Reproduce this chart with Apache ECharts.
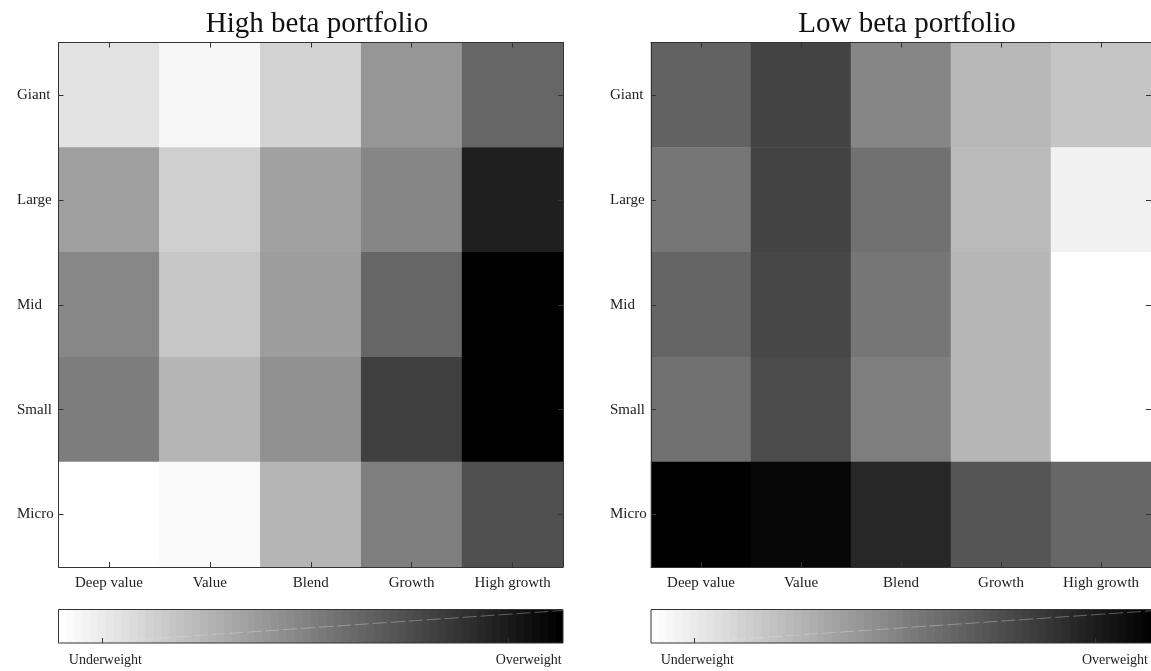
<!DOCTYPE html>
<html>
<head>
<meta charset="utf-8">
<script src="https://cdn.jsdelivr.net/npm/echarts@6/dist/echarts.min.js"></script>
<style>
html,body{margin:0;padding:0;background:#fff;}
#chart{width:1151px;height:671px;}
</style>
</head>
<body>
<div id="chart"></div>
<script>
// Categories
const styleCats = ['Deep value', 'Value', 'Blend', 'Growth', 'High growth'];
const sizeCats = ['Giant', 'Large', 'Mid', 'Small', 'Micro'];
const panelTitles = ['High beta portfolio', 'Low beta portfolio'];
const colorbarLabels = ['Underweight', 'Overweight'];

// Relative weight (0 = most underweight, 255 = most overweight), rows = sizeCats, cols = styleCats
const highBetaGiant = [28, 8, 44, 105, 153];
const highBetaLarge = [96, 48, 94, 121, 224];
const highBetaMid   = [120, 57, 98, 153, 255];
const highBetaSmall = [130, 74, 110, 192, 255];
const highBetaMicro = [0, 6, 74, 129, 175];

const lowBetaGiant = [157, 188, 121, 72, 58];
const lowBetaLarge = [137, 188, 142, 69, 14];
const lowBetaMid   = [154, 184, 137, 73, 0];
const lowBetaSmall = [142, 180, 129, 73, 0];
const lowBetaMicro = [255, 248, 216, 170, 152];

const highBeta = [highBetaGiant, highBetaLarge, highBetaMid, highBetaSmall, highBetaMicro];
const lowBeta = [lowBetaGiant, lowBetaLarge, lowBetaMid, lowBetaSmall, lowBetaMicro];

function toHeat(rows) {
  const out = [];
  rows.forEach((row, yi) => row.forEach((v, xi) => out.push([xi, yi, v])));
  return out;
}

const FONT = 'Liberation Serif';
const AX = '#333';
const panels = [
  { left: 58.5, top: 42.5, width: 504.5, height: 524.5, titleX: 312, labelMargin: 41.5 },
  { left: 651, top: 42.5, width: 505, height: 524.5, titleX: 902, labelMargin: 41 }
];
const cbTop = 609.5, cbH = 33.5;

const grid = [], xAxis = [], yAxis = [], series = [], title = [], graphic = [];
panels.forEach((p, i) => {
  grid.push({ left: p.left, top: p.top, width: p.width, height: p.height, containLabel: false });
  title.push({
    text: panelTitles[i], left: p.titleX, top: 5, textAlign: 'center',
    textStyle: { fontFamily: FONT, fontSize: 29, fontWeight: 'normal', color: '#111' }
  });
  const tick = { show: true, inside: true, alignWithLabel: true, length: 5, lineStyle: { color: AX, width: 1 } };
  const line = { show: true, lineStyle: { color: AX, width: 1 } };
  xAxis.push({ type: 'category', gridIndex: i, data: styleCats, position: 'bottom', axisLine: line, axisTick: tick,
    axisLabel: { fontFamily: FONT, fontSize: 15, color: '#222', margin: 9 }, splitLine: { show: false }, z: 5 });
  xAxis.push({ type: 'category', gridIndex: i, data: styleCats, position: 'top', axisLine: line, axisTick: tick,
    axisLabel: { show: false }, splitLine: { show: false }, z: 5 });
  yAxis.push({ type: 'category', gridIndex: i, data: sizeCats, inverse: true, position: 'left', axisLine: line, axisTick: tick,
    axisLabel: { fontFamily: FONT, fontSize: 15, color: '#222', margin: p.labelMargin, align: 'left', padding: [4, 0, 0, 0] },
    splitLine: { show: false }, z: 5 });
  yAxis.push({ type: 'category', gridIndex: i, data: sizeCats, inverse: true, position: 'right', axisLine: line, axisTick: tick,
    axisLabel: { show: false }, splitLine: { show: false }, z: 5 });
  series.push({
    type: 'heatmap', xAxisIndex: i * 2, yAxisIndex: i * 2,
    data: toHeat(i === 0 ? highBeta : lowBeta),
    emphasis: { disabled: true }, progressive: 0, itemStyle: { borderWidth: 0 }
  });
});

// Colorbar grids
panels.forEach((p, i) => {
  const gi = 2 + i;
  grid.push({ left: p.left, top: cbTop, width: p.width, height: cbH });
  xAxis.push({ type: 'value', gridIndex: gi, min: 0, max: 100, z: 10,
    axisLine: { show: false },
    axisTick: { show: true, inside: true, length: 5, customValues: [8.6, 89.2], lineStyle: { color: AX } },
    axisLabel: { customValues: [9.3, 93.2], formatter: v => (v < 50 ? colorbarLabels[0] : colorbarLabels[1]),
      fontFamily: FONT, fontSize: 14, color: '#222', margin: 10 },
    splitLine: { show: false } });
  yAxis.push({ type: 'value', gridIndex: gi, show: false, min: 0, max: 1, splitLine: { show: false } });

  const stops = [];
  const N = 64;
  for (let k = 0; k < N; k++) {
    const g = Math.round(255 * (1 - k / (N - 1)));
    const c = 'rgb(' + g + ',' + g + ',' + g + ')';
    stops.push({ offset: k / N, color: c }, { offset: (k + 1) / N, color: c });
  }
  graphic.push({
    type: 'rect', z: 1,
    shape: { x: p.left, y: cbTop, width: p.width, height: cbH },
    style: { fill: new echarts.graphic.LinearGradient(0, 0, 1, 0, stops), stroke: AX, lineWidth: 1 }
  });
  graphic.push({
    type: 'line', z: 2,
    shape: { x1: p.left + 45, y1: cbTop + cbH - 1, x2: p.left + p.width, y2: cbTop + 1 },
    style: { stroke: 'rgba(230,230,230,0.35)', lineWidth: 1, lineDash: [14, 4] }
  });
});

const chart = echarts.init(document.getElementById('chart'), null, { renderer: 'canvas' });
chart.setOption({
  animation: false,
  backgroundColor: '#fff',
  title, grid, xAxis, yAxis, series, graphic,
  visualMap: {
    show: false, type: 'continuous', min: 0, max: 255, seriesIndex: [0, 1],
    inRange: { color: ['#ffffff', '#000000'] }
  }
});
</script>
</body>
</html>
